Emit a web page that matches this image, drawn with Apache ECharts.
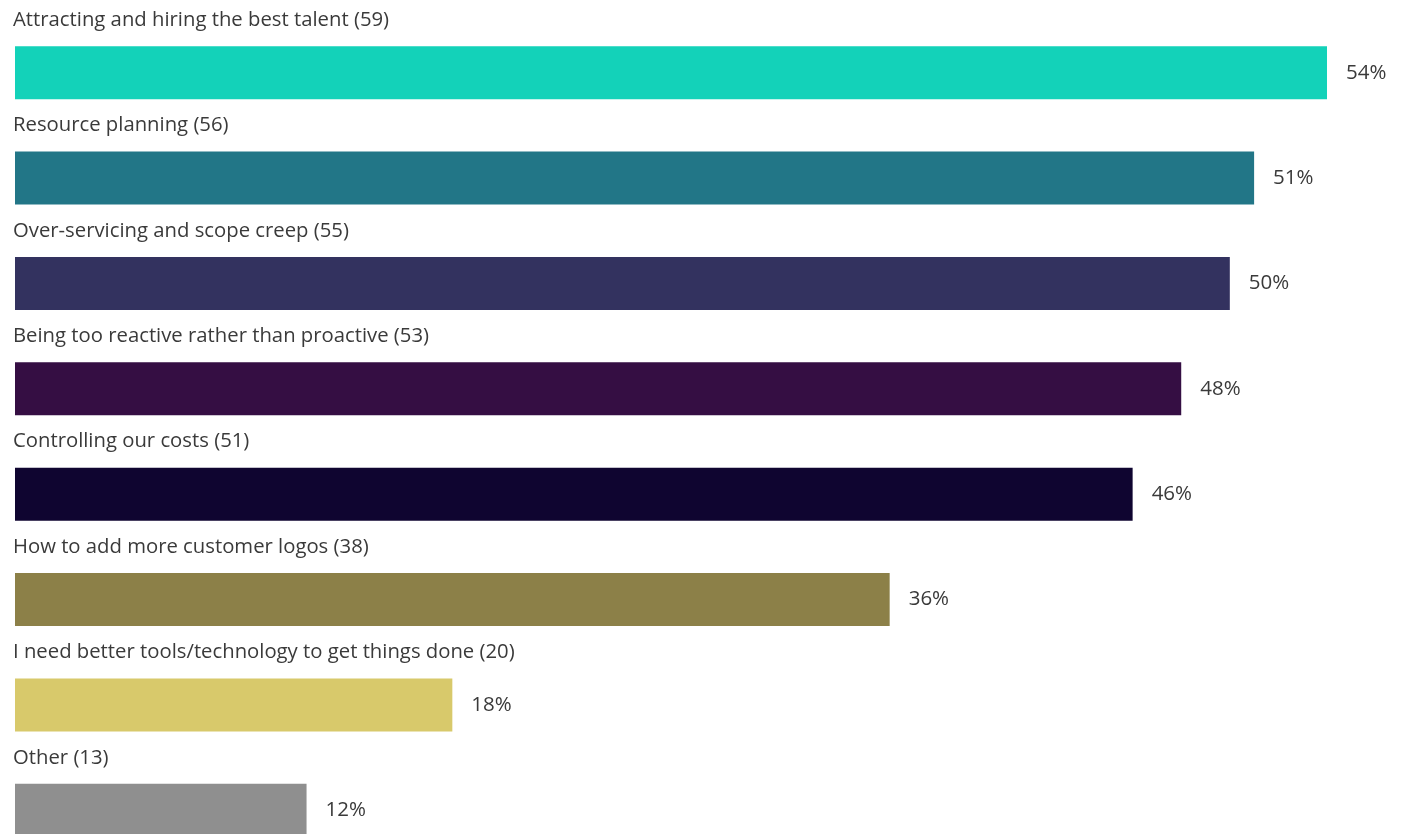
<!DOCTYPE html>
<html>
<head>
<meta charset="utf-8">
<script src="https://cdn.jsdelivr.net/npm/echarts@6/dist/echarts.min.js"></script>
<style>
  html, body { margin: 0; padding: 0; background: #ffffff; }
  #chart { width: 1406px; height: 834px; }
</style>
</head>
<body>
<div id="chart"></div>
<script>
// Survey answers: biggest challenges, with respondent counts in brackets
const categories = [
  'Attracting and hiring the best talent (59)',
  'Resource planning (56)',
  'Over-servicing and scope creep (55)',
  'Being too reactive rather than proactive (53)',
  'Controlling our costs (51)',
  'How to add more customer logos (38)',
  'I need better tools/technology to get things done (20)',
  'Other (13)'
];
const shares = [54, 51, 50, 48, 46, 36, 18, 12];
const barColors = ['#13d2b9', '#227687', '#33325f', '#350e43', '#0f0530', '#8c8048', '#d8c96b', '#8f8f8f'];

const textColor = '#3a3a3a';
const font = '"Open Sans", "Noto Sans", sans-serif';

const chart = echarts.init(document.getElementById('chart'));

chart.setOption({
  animation: false,
  grid: { left: 15, top: 20, width: 1312, height: 843, outerBoundsMode: 'none' },
  xAxis: { type: 'value', min: 0, max: 54, show: false },
  yAxis: {
    type: 'category',
    data: categories,
    inverse: true,
    show: false
  },
  series: [
    {
      // coloured bars with the share printed to the right
      type: 'bar',
      barWidth: 53,
      data: shares.map((v, i) => ({ value: v, itemStyle: { color: barColors[i] } })),
      label: {
        show: true,
        position: 'right',
        distance: 19,
        formatter: p => p.value + '%',
        color: textColor,
        fontFamily: font,
        fontSize: 20.5
      }
    },
    {
      // transparent twin bars carrying the category caption above each bar
      type: 'bar',
      barWidth: 53,
      barGap: '-100%',
      silent: true,
      data: shares.map(v => ({ value: v, itemStyle: { color: 'rgba(0,0,0,0)' } })),
      label: {
        show: true,
        position: [-2, -26],
        align: 'left',
        verticalAlign: 'middle',
        formatter: p => p.name,
        color: textColor,
        fontFamily: font,
        fontSize: 20.3
      }
    }
  ]
});
</script>
</body>
</html>
